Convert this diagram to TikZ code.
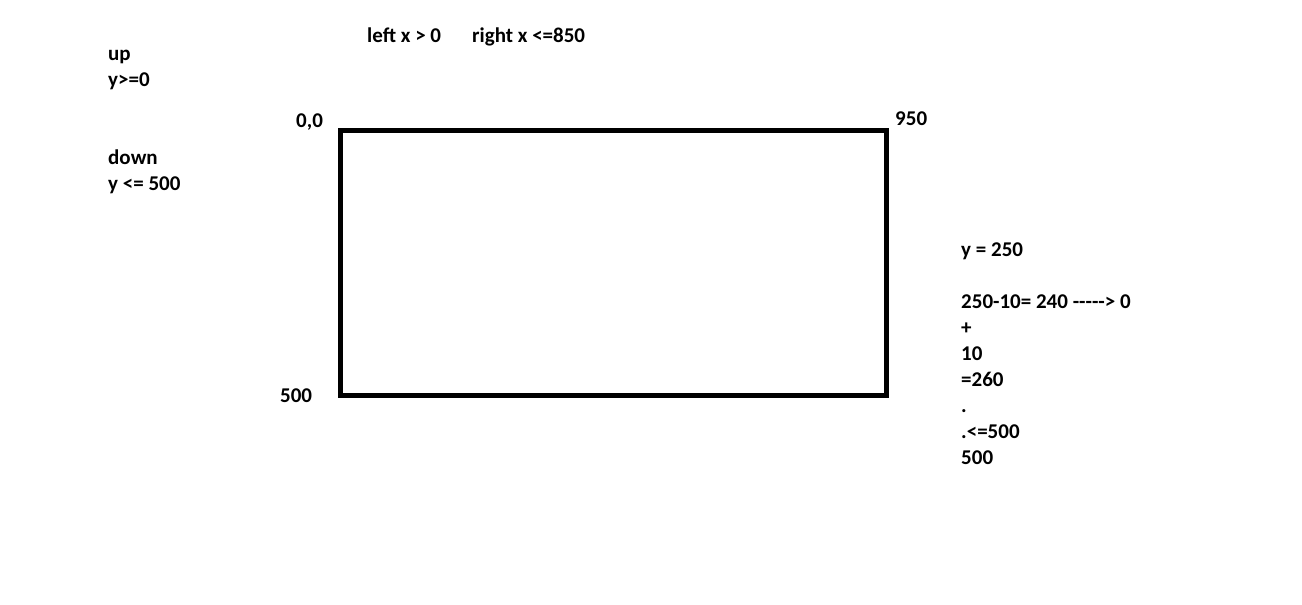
\documentclass[tikz,border=0pt]{standalone}
\usepackage{fontspec}
\setmainfont{Carlito}[Ligatures=TeXOff]
\tikzset{
    lbl/.style = {anchor=base west, inner sep=0pt, font=\fontsize{21}{24}\selectfont\bfseries},
    frame/.style = {line width=5pt}
}
\begin{document}
\begin{tikzpicture}[x=1pt, y=-1pt]
        \useasboundingbox [fill=white] (0, 0) rectangle (1302, 605);
        \draw [frame] (340, 130) rectangle (886, 395);
        \node [lbl] (up) at (108, 60) {up};
        \node [lbl] (upy) at (108, 86) {y>=0};
        \node [lbl] (down) at (108, 164) {down};
        \node [lbl] (downy) at (108, 190) {y <= 500};
        \node [lbl] (left) at (367, 42) {left x > 0};
        \node [lbl] (right) at (472, 42) {right x <=850};
        \node [lbl] (origin) at (296, 127) {0,0};
        \node [lbl] (xmax) at (895, 125) {950};
        \node [lbl] (ymax) at (280, 402) {500};
        \node [lbl] (mid) at (961, 256) {y = 250};
        \node [lbl] (l1) at (961, 308) {250-10= 240 -----> 0};
        \node [lbl] (l2) at (961, 334) {+};
        \node [lbl] (l3) at (961, 360) {10};
        \node [lbl] (l4) at (961, 386) {=260};
        \node [lbl] (l5) at (961, 412) {.};
        \node [lbl] (l6) at (961, 438) {.<=500};
        \node [lbl] (l7) at (961, 464) {500};
    \end{tikzpicture}
\end{document}
